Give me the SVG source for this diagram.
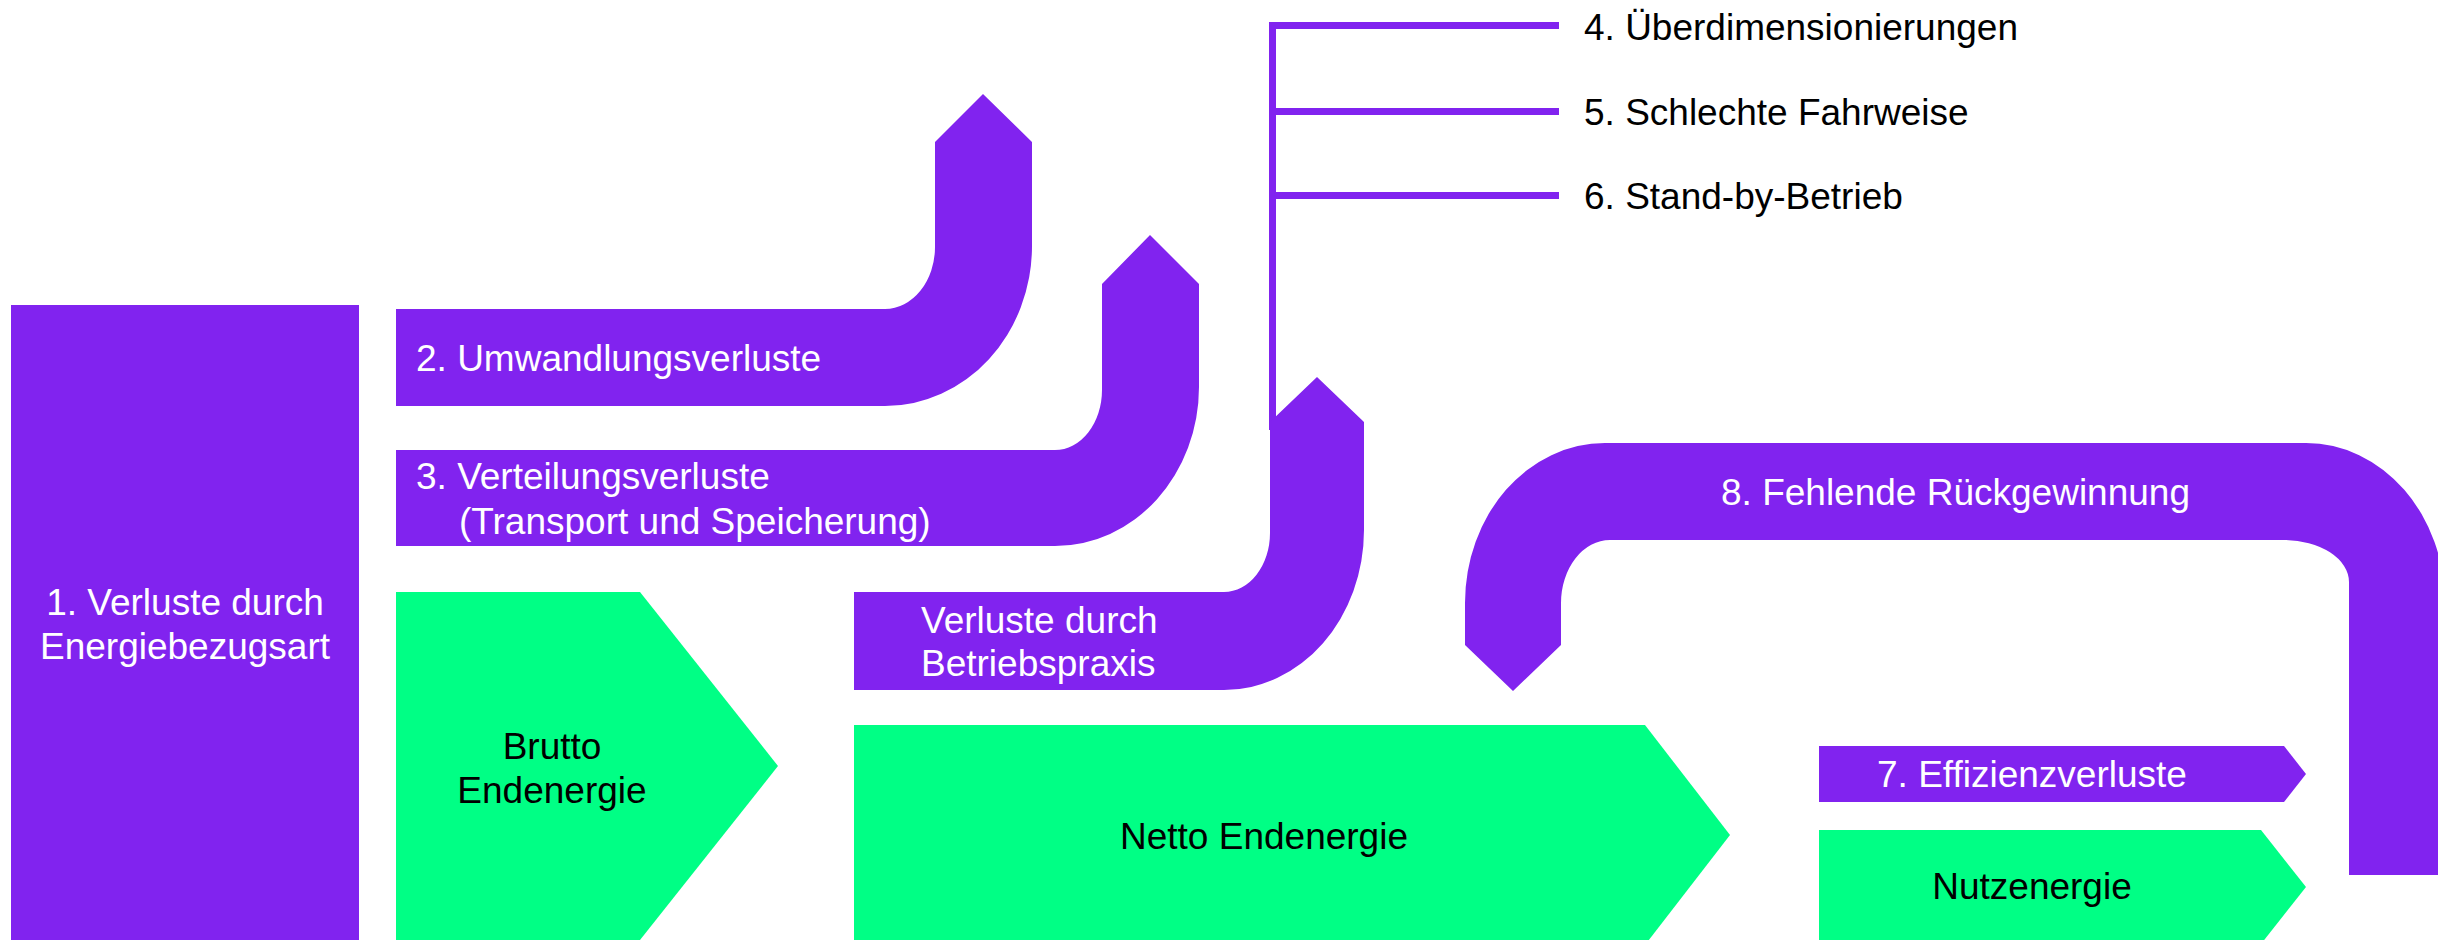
<svg xmlns="http://www.w3.org/2000/svg" width="2438" height="940" viewBox="0 0 2438 940">
  <style>
    .loss { fill: #8123EF; }
    .energy { fill: #00FF85; }
    .wire { stroke: #8123EF; stroke-width: 7; fill: none; }
    text { font-family: "Liberation Sans", Arial, sans-serif; font-size: 37px; }
    .light { fill: #FFFFFF; }
    .dark { fill: #000000; }
    .mid { text-anchor: middle; }
  </style>
  <rect width="2438" height="940" fill="#FFFFFF"/>

  <!-- branch lines to items 4-6 -->
  <g id="connectors">
    <path class="wire" d="M1272.5,22 V430"/>
    <path class="wire" d="M1269,25.5 H1559"/>
    <path class="wire" d="M1269,111.5 H1559"/>
    <path class="wire" d="M1269,195.5 H1559"/>
  </g>

  <g id="n1">
    <rect class="loss" x="11" y="305" width="348" height="635"/>
    <text class="light mid" x="185" y="615">1. Verluste durch</text>
    <text class="light mid" x="185" y="659">Energiebezugsart</text>
  </g>

  <g id="n2">
    <path class="loss" d="M396,309 H885 A50,62 0 0 0 935,247 V142 L983,94 L1032,142 V246 A147,160 0 0 1 885,406 H396 Z"/>
    <text class="light" x="416" y="371">2. Umwandlungsverluste</text>
  </g>

  <g id="n3">
    <path class="loss" d="M396,450 H1055 A47,60 0 0 0 1102,390 V284 L1150,235 L1199,284 V387 A144,159 0 0 1 1055,546 H396 Z"/>
    <text class="light" x="416" y="489">3. Verteilungsverluste</text>
    <text class="light" x="459" y="534">(Transport und Speicherung)</text>
  </g>

  <g id="brutto">
    <polygon class="energy" points="396,592 640,592 778,766 640,940 396,940"/>
    <text class="dark mid" x="552" y="759">Brutto</text>
    <text class="dark mid" x="552" y="803">Endenergie</text>
  </g>

  <g id="betrieb">
    <path class="loss" d="M854,592 H1224 A46,59 0 0 0 1270,533 V422 L1317,377 L1364,422 V530 A140,160 0 0 1 1224,690 H854 Z"/>
    <text class="light" x="921" y="633">Verluste durch</text>
    <text class="light" x="921" y="676">Betriebspraxis</text>
  </g>

  <g id="n4">
    <text class="dark" x="1584" y="40">4. Überdimensionierungen</text>
  </g>
  <g id="n5">
    <text class="dark" x="1584" y="125">5. Schlechte Fahrweise</text>
  </g>
  <g id="n6">
    <text class="dark" x="1584" y="209">6. Stand-by-Betrieb</text>
  </g>

  <g id="netto">
    <polygon class="energy" points="854,725 1645,725 1730,835 1645,945 854,945"/>
    <text class="dark mid" x="1264" y="849">Netto Endenergie</text>
  </g>

  <g id="n8">
    <path class="loss" d="M1465,645 V603 A140,160 0 0 1 1605,443 H2306 A139,160 0 0 1 2445,603 V875 H2349 V582 A65,42 0 0 0 2284,540 H1610 A49,63 0 0 0 1561,603 V645 L1513,691 Z"/>
    <text class="light" x="1721" y="505">8. Fehlende Rückgewinnung</text>
  </g>

  <g id="n7">
    <polygon class="loss" points="1819,746 2284,746 2306,774 2284,802 1819,802"/>
    <text class="light" x="1877" y="787">7. Effizienzverluste</text>
  </g>

  <g id="nutz">
    <polygon class="energy" points="1819,830 2261,830 2306,887 2261,944 1819,944"/>
    <text class="dark mid" x="2032" y="899">Nutzenergie</text>
  </g>
</svg>
